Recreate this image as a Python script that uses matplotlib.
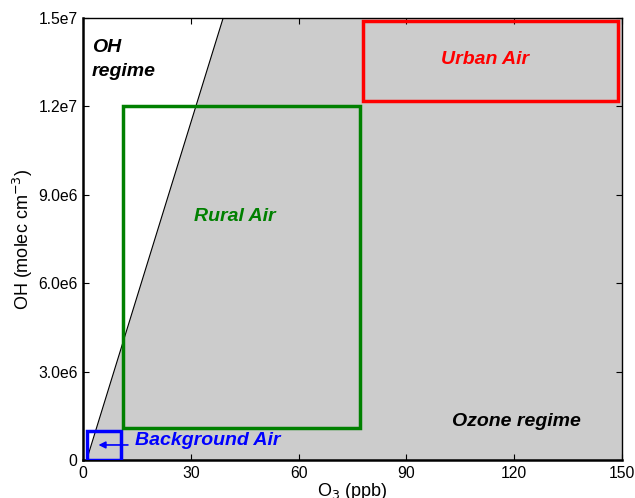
import matplotlib
matplotlib.use("Agg")
import matplotlib.pyplot as plt
from matplotlib.patches import Rectangle, Polygon

plt.rcParams['font.family'] = ['Liberation Sans', 'DejaVu Sans']

# data
xticks = [0, 30, 60, 90, 120, 150]
yticks = [0, 3.0e6, 6.0e6, 9.0e6, 1.2e7, 1.5e7]
ytick_labels = ['0', '3.0e6', '6.0e6', '9.0e6', '1.2e7', '1.5e7']
boundary_x = [1, 39]
boundary_y = [0, 1.5e7]
# boxes: (x0, y0, x1, y1)
background_box = (1, 0, 10.5, 1.0e6)
rural_box = (11, 1.1e6, 77, 1.2e7)
urban_box = (78, 1.22e7, 149, 1.49e7)

fig = plt.figure(figsize=(6.35, 4.98), dpi=100)
ax = fig.add_axes([83/635, 1-460/498, 539/635, 442/498])
ax.set_xlim(0, 150)
ax.set_ylim(0, 1.5e7)

poly = Polygon([(boundary_x[0], boundary_y[0]), (boundary_x[1], boundary_y[1]),
                (150, 1.5e7), (150, 0)], closed=True, facecolor='#cccccc',
               edgecolor='none', zorder=0)
ax.add_patch(poly)
ax.plot(boundary_x, boundary_y, color='black', lw=0.8, zorder=1)

def box(b, color):
    x0, y0, x1, y1 = b
    ax.add_patch(Rectangle((x0, y0), x1 - x0, y1 - y0, fill=False,
                           edgecolor=color, lw=2.5, zorder=3))

box(background_box, '#0000ff')
box(rural_box, '#008000')
box(urban_box, '#ff0000')

fs = 14
ax.text(2.5, 1.43e7, 'OH\nregime', fontsize=fs, fontweight='bold', fontstyle='italic',
        va='top', ha='left', linespacing=1.55)
ax.text(112, 1.36e7, 'Urban Air', color='#ff0000', fontsize=fs, fontweight='bold',
        fontstyle='italic', ha='center', va='center')
ax.text(42.3, 8.25e6, 'Rural Air', color='#008000', fontsize=fs, fontweight='bold',
        fontstyle='italic', ha='center', va='center')
ax.text(14.5, 6.5e5, 'Background Air', color='#0000ff', fontsize=fs, fontweight='bold',
        fontstyle='italic', ha='left', va='center')
ax.text(120.7, 1.3e6, 'Ozone regime', color='black', fontsize=fs, fontweight='bold',
        fontstyle='italic', ha='center', va='center')
ax.annotate('', xy=(4.3, 5.1e5), xytext=(12.5, 5.1e5),
            arrowprops=dict(arrowstyle='-|>', color='#0000ff', lw=1.2,
                            mutation_scale=10, shrinkA=0, shrinkB=0))

ax.set_xticks(xticks)
ax.set_yticks(yticks)
ax.set_yticklabels(ytick_labels)
ax.tick_params(direction='in', top=True, right=True, labelsize=11.3, length=4, pad=4)
for s in ['left', 'bottom']:
    ax.spines[s].set_linewidth(1.8)
for s in ['top', 'right']:
    ax.spines[s].set_linewidth(1.0)
ax.set_xlabel('O$_3$ (ppb)', fontsize=13, labelpad=0)
ax.set_ylabel('OH (molec cm$^{-3}$)', fontsize=13, labelpad=2)

fig.savefig('out.png', dpi=100)
